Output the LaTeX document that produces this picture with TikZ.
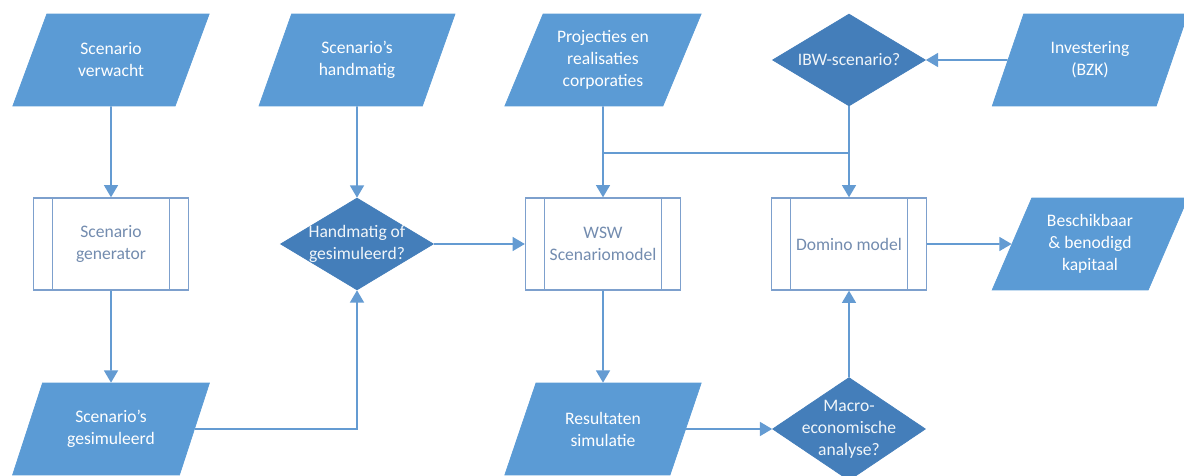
\documentclass[tikz,border=0pt]{standalone}
\usepackage{fontspec}
\setmainfont{Carlito}
\usepackage{tikz}
\usetikzlibrary{arrows.meta,shapes.geometric}
\definecolor{datablue}{RGB}{91,155,213}
\definecolor{decblue}{RGB}{68,126,186}
\definecolor{boxline}{RGB}{125,160,205}
\definecolor{boxtext}{RGB}{115,140,175}
\definecolor{lineblue}{RGB}{100,155,210}
\begin{document}
\begin{tikzpicture}[x=0.02cm,y=-0.02cm]
\tikzset{data/.style = {shape=trapezium,trapezium left angle=64,trapezium right angle=116,
  trapezium stretches=true,fill=datablue,draw=datablue,text=white,align=center,
  minimum width=3.94cm,minimum height=1.84cm,inner sep=1pt,
  font=\fontsize{10}{12.5}\selectfont}}
\tikzset{decision/.style = {shape=diamond,fill=decblue,draw=decblue,text=white!92!decblue,align=center,
  minimum width=3.06cm,minimum height=1.84cm,inner sep=-7pt,
  font=\fontsize{10}{12.5}\selectfont}}
\tikzset{proc/.style = {shape=rectangle,draw=boxline,line width=0.8pt,fill=white,text=boxtext,align=center,
  minimum width=3.1cm,minimum height=1.84cm,font=\fontsize{10}{12.5}\selectfont,
  path picture={\draw[boxline,line width=0.8pt] ([xshift=0.38cm]path picture bounding box.north west) -- ([xshift=0.38cm]path picture bounding box.south west);
    \draw[boxline,line width=0.8pt] ([xshift=-0.38cm]path picture bounding box.north east) -- ([xshift=-0.38cm]path picture bounding box.south east);}}}
\tikzset{edge/.style = {draw=lineblue,line width=0.9pt,-{Triangle[width=8pt,length=7pt]}}}
\tikzset{link/.style = {draw=lineblue,line width=0.9pt}}
\useasboundingbox (0,0) rectangle (1184,476);
% top row
\node[data] (sv)  at (111,60)  {Scenario\\verwacht};
\node[data] (sh)  at (357,60)  {Scenario's\\handmatig};
\node[data] (pr)  at (603,60)  {Projecties en\\realisaties\\corporaties};
\node[decision] (ibw) at (849,60) {IBW-scenario?};
\node[data] (inv) at (1090,60) {Investering\\(BZK)};
% middle row
\node[proc] (gen) at (111,244) {Scenario\\generator};
\node[decision] (hog) at (357,244) {Handmatig of\\gesimuleerd?};
\node[proc] (wsw) at (603,244) {WSW\\Scenariomodel};
\node[proc] (dom) at (849,244) {Domino model};
\node[data] (bes) at (1090,244) {Beschikbaar\\\& benodigd\\kapitaal};
% bottom row
\node[data] (sg)  at (111,429) {Scenario's\\gesimuleerd};
\node[data] (res) at (603,429) {Resultaten\\simulatie};
\node[decision] (mac) at (849,429) {Macro-\\economische\\analyse?};
% junction
\coordinate (j1) at (603,153);
\coordinate (j2) at (849,153);
% edges
\draw[edge] (sv) to (gen);
\draw[edge] (gen) to (sg);
\draw[edge] (sh) to (hog);
\draw[edge] (sg.east) -| (hog.south);
\draw[edge] (hog) to (wsw);
\draw[edge] (pr) to (wsw);
\draw[link] (j1) to (j2);
\draw[edge] (inv) to (ibw);
\draw[edge] (ibw) to (dom);
\draw[edge] (wsw) to (res);
\draw[edge] (res) to (mac);
\draw[edge] (mac) to (dom);
\draw[edge] (dom) to (bes);
\end{tikzpicture}
\end{document}
